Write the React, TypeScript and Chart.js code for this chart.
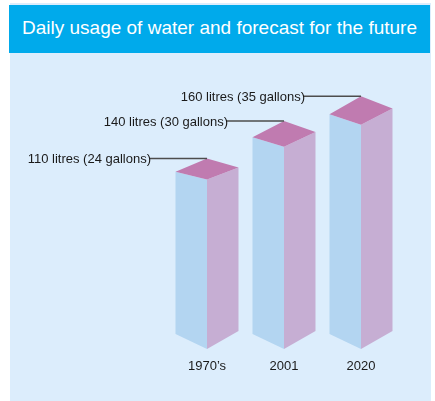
import React, { useEffect, useRef } from "react";
import { Chart, registerables } from "chart.js";

Chart.register(...registerables);

const categories: string[] = ["1970\u2019s", "2001", "2020"];
const litres: number[] = [110, 140, 160];
const annotations: string[] = [
  "110 litres (24 gallons)",
  "140 litres (30 gallons)",
  "160 litres (35 gallons)",
];
const title = "Daily usage of water and forecast for the future";

const FONT = "'Liberation Sans', Arial, sans-serif";
const FRONT = "#b3d5f1";
const SIDE = "#c6aed3";
const TOP = "#c07bb0";

const prismPlugin = {
  id: "prism",
  afterDatasetsDraw(chart: any) {
    const ctx = chart.ctx as CanvasRenderingContext2D;
    const meta = chart.getDatasetMeta(0);
    const yScale = chart.scales.y;
    const B = yScale.getPixelForValue(yScale.min);
    meta.data.forEach((el: any, i: number) => {
      const x = el.x;
      const w = el.width;
      const T = el.y;
      const L = x - w / 2;
      const R = x + w / 2;
      const M = x;
      const h = B - T;
      const fo = 0.048 * h;
      const ro = 0.026 * h;
      const bo = 0.082 * h;
      ctx.save();
      // front face
      ctx.fillStyle = FRONT;
      ctx.beginPath();
      ctx.moveTo(L, T);
      ctx.lineTo(M, T + fo);
      ctx.lineTo(M, B + 15);
      ctx.lineTo(L, B);
      ctx.closePath();
      ctx.fill();
      // side face
      ctx.fillStyle = SIDE;
      ctx.beginPath();
      ctx.moveTo(M, T + fo);
      ctx.lineTo(R, T - ro);
      ctx.lineTo(R, B - 3);
      ctx.lineTo(M, B + 15);
      ctx.closePath();
      ctx.fill();
      // top face
      ctx.fillStyle = TOP;
      ctx.beginPath();
      ctx.moveTo(L, T);
      ctx.lineTo(M, T - bo);
      ctx.lineTo(R, T - ro);
      ctx.lineTo(M, T + fo);
      ctx.closePath();
      ctx.fill();
      // annotation
      const by = T - bo;
      ctx.strokeStyle = "#4d4d4d";
      ctx.lineWidth = 1.5;
      ctx.beginPath();
      ctx.moveTo(M - 58, by);
      ctx.lineTo(M, by);
      ctx.stroke();
      ctx.fillStyle = "#1a1a1a";
      ctx.font = "13px " + FONT;
      ctx.textAlign = "right";
      ctx.textBaseline = "middle";
      ctx.fillText(annotations[i], M - 56, by + 1);
      ctx.restore();
    });
  },
};

export default function App() {
  const ref = useRef<HTMLCanvasElement | null>(null);
  useEffect(() => {
    if (!ref.current) return;
    const chart = new Chart(ref.current, {
      type: "bar",
      data: {
        labels: categories,
        datasets: [
          {
            data: litres,
            backgroundColor: "rgba(0,0,0,0)",
            borderWidth: 0,
            barPercentage: 0.818,
            categoryPercentage: 1,
          },
        ],
      },
      options: {
        animation: false,
        responsive: false,
        devicePixelRatio: 1,
        layout: { padding: { left: 168.5, right: 35.5, top: 91.2, bottom: 1.4 } },
        plugins: {
          legend: { display: false },
          tooltip: { enabled: false },
          title: { display: false },
        },
        scales: {
          x: {
            grid: { display: false, drawTicks: false },
            border: { display: false },
            ticks: {
              padding: 25,
              color: "#1a1a1a",
              font: { family: FONT, size: 13 },
            },
          },
          y: {
            display: false,
            min: -31,
            max: 180,
          },
        },
      },
      plugins: [prismPlugin],
    });
    return () => chart.destroy();
  }, []);

  return (
    <div style={{ position: "fixed", left: 0, top: 0, width: 435, height: 401, background: "#ffffff" }}>
      <div style={{ position: "absolute", left: 10, top: 3, width: 421, height: 398, background: "#dcedfc" }} />
      <div
        style={{
          position: "absolute",
          left: 9,
          top: 5,
          width: 421,
          height: 48,
          background: "#00aaeb",
          color: "#ffffff",
          fontFamily: FONT,
          fontSize: 19,
          lineHeight: "46px",
          textAlign: "center",
          whiteSpace: "nowrap",
        }}
      >
        {title}
      </div>
      <canvas
        ref={ref}
        width={435}
        height={401}
        style={{ position: "absolute", left: 0, top: 0, width: 435, height: 401 }}
      />
    </div>
  );
}
